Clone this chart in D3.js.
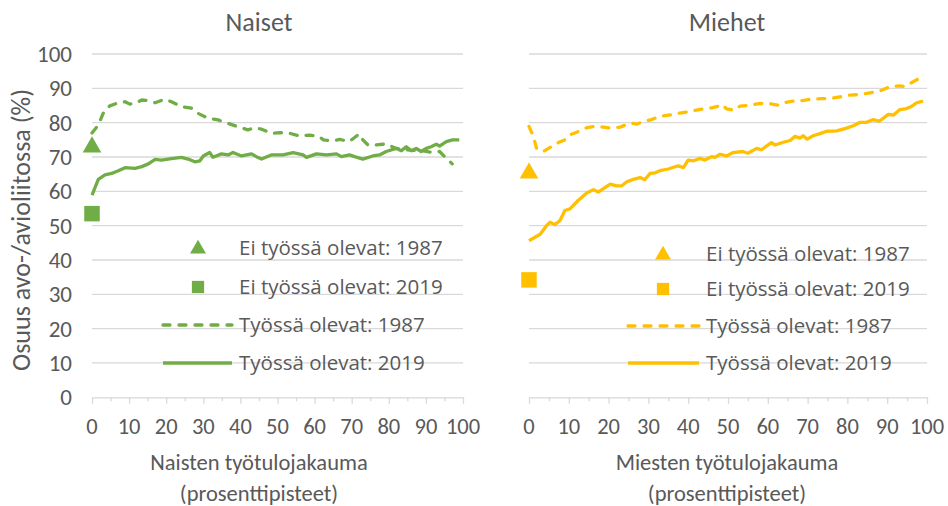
<!DOCTYPE html>
<html><head><meta charset="utf-8">
<script src="https://cdn.jsdelivr.net/npm/d3@7"></script>
<style>
body{margin:0;background:#fff}
text{fill:#595959}
.cal{font-family:"Carlito","Liberation Sans Narrow","Liberation Sans",sans-serif}
.leg{font-family:"Open Sans","Noto Sans",sans-serif}
</style></head><body>
<svg id="c" width="948" height="506"></svg>
<script>
const xTicks = [0,10,20,30,40,50,60,70,80,90,100];
const yTicks = [0,10,20,30,40,50,60,70,80,90,100];
const panelTitles = ["Naiset","Miehet"];
const axisTitles = [["Naisten työtulojakauma","(prosenttipisteet)"],["Miesten työtulojakauma","(prosenttipisteet)"]];
const yTitle = "Osuus avo-/avioliitossa (%)";
const legendLabels = ["Ei työssä olevat: 1987","Ei työssä olevat: 2019","Työssä olevat: 1987","Työssä olevat: 2019"];
const colors = ["#70AD47","#FFC000"];

// Ei työssä olevat (x = 0): [1987, 2019]
const womenIdle = [73.2, 53.5];
const menIdle = [65.6, 34.2];

const women1987 = [[0,77],[1.7,79.3],[3,82.7],[4.8,84.9],[6.6,85.6],[8.9,86.1],[10.2,85.4],[12,85.8],[13.4,86.6],[15.2,86.4],[17,85.8],[19.6,86.8],[21.4,86.1],[24.1,84.7],[26.8,84.2],[28.6,82.7],[31.3,81.3],[34,80.8],[35.8,80.1],[39.4,78.8],[42,77.9],[43.9,78.5],[45.7,78.1],[48.3,76.9],[50.6,77.1],[53.3,76.9],[56,76.1],[58.7,76.4],[61.4,75.9],[62.3,75],[65,74.7],[66.8,75.1],[69.4,74.5],[72,76.7],[73,75],[74.4,73.5],[76.6,73.5],[79.3,73.8],[82,72.5],[85.6,72],[89.2,71.8],[91.9,71.3],[93.7,71.6],[95.5,69.6],[97.1,68]];
const women2019 = [[0,58.9],[1.7,63.5],[3.5,64.8],[5.3,65.2],[7.1,66],[8.9,66.9],[11.6,66.7],[13.4,67.2],[15.2,68],[17,69.3],[18.7,69.1],[21.4,69.5],[24.1,69.9],[25.9,69.4],[27.7,68.6],[29.1,68.9],[30,70.3],[31.7,71.3],[32.6,69.9],[34.9,70.9],[36.7,70.6],[38,71.3],[40.3,70.3],[43,70.9],[44.3,70.1],[45.7,69.4],[48.3,70.6],[51.5,70.6],[54.2,71.3],[56.9,70.6],[57.8,69.9],[60.5,70.9],[63.2,70.6],[65.9,70.9],[67.2,70.1],[69.4,70.6],[70.8,70.1],[73,69.4],[75.7,70.3],[77.5,70.6],[79.3,71.6],[82,72.5],[83.4,71.8],[84.7,73],[86.1,71.8],[87.4,72.5],[88.7,71.6],[90.1,72.5],[91.4,73],[92.8,73.7],[93.7,73.2],[95.5,74.5],[97.2,75],[99,75]];
const men1987 = [[0,78.9],[1.1,76],[1.9,72.5],[3.6,71.6],[5.3,72.8],[7.4,74.2],[9,75],[10.3,76.5],[12,77.2],[14.1,78.4],[16.2,78.9],[18.7,78.7],[20.8,78.4],[22.9,78.7],[25.4,79.9],[27.1,79.6],[29.1,80.4],[30.8,80.9],[32.9,81.9],[34.6,82.1],[36.3,82.4],[37.9,82.8],[39.6,83.1],[41.3,83.5],[43.8,84],[45.9,84.3],[47.6,84.8],[48.4,85.3],[49.7,84],[51.7,83.6],[53,84.8],[55.5,85.1],[58,85.6],[60.6,85.5],[62.6,85.1],[63.9,85.8],[66.4,86.3],[68.1,86.3],[70.6,86.8],[73.1,87],[75.6,87],[78.1,87.5],[80.6,88],[83.2,88.2],[85.7,88.7],[88.2,89.2],[90.7,90.5],[93.2,90.7],[94.5,90.5],[96.2,91.7],[98.1,92.9]];
const men2019 = [[0,45.6],[2.8,47.5],[4.4,50],[5.3,51],[6.5,50.3],[7.8,51.5],[9,54.4],[10.3,54.9],[12.4,57.4],[14.5,59.5],[16.2,60.5],[17.4,59.8],[18.7,60.8],[20.4,62.1],[22,61.6],[23.3,61.6],[24.5,62.7],[26.2,63.5],[27.9,64],[29.1,63.4],[30.4,65.2],[31.7,65.4],[32.9,66],[35,66.5],[36.3,67],[37.5,67.4],[38.8,66.9],[40,69.1],[41.3,68.9],[43,69.6],[44.2,69.1],[45.9,70.1],[46.7,69.9],[48,70.8],[49.6,70.3],[51.3,71.3],[53.7,71.6],[55,71.1],[57.2,72.5],[58.4,72.1],[60.9,74.2],[61.8,73.5],[63.9,74.3],[65.6,74.8],[66.8,76],[68.1,75.5],[68.9,76.2],[69.9,75.2],[71.4,76.2],[73.1,76.8],[74.8,77.5],[77.3,77.6],[79.8,78.4],[81.5,79.1],[83.2,80.1],[84.8,80.1],[86.5,80.9],[88,80.4],[90.3,82.4],[91.6,82.2],[93.2,83.8],[94.9,84.1],[96.2,84.8],[97.4,85.8],[99,86.3]];

const svg = d3.select("#c");
const y = d3.scaleLinear().domain([0,100]).range([397.3,54]);

const panels = [
  {x0:92, x1:463, idle:womenIdle, l1987:women1987, l2019:women2019, color:colors[0], legX:163, legTx:239, legY:[248,287,325,363], cx:259},
  {x0:529, x1:927, idle:menIdle, l1987:men1987, l2019:men2019, color:colors[1], legX:628, legTx:706, legY:[254,289,326,363], cx:727}
];

// y axis labels (left panel only)
svg.append("g").selectAll("text").data(yTicks).join("text")
  .attr("class","cal").attr("x",72).attr("y",d=>y(d)).attr("dy","0.35em")
  .attr("text-anchor","end").attr("font-size",23).text(d=>d);
svg.append("text").attr("class","cal").attr("transform","translate(21,230) rotate(-90)")
  .attr("text-anchor","middle").attr("dy","0.35em").attr("font-size",26).text(yTitle);

const tri = d3.symbol().type(d3.symbolTriangle).size(150);
const sq = d3.symbol().type(d3.symbolSquare).size(240);

panels.forEach((p,i)=>{
  const x = d3.scaleLinear().domain([0,100]).range([p.x0,p.x1]);
  const g = svg.append("g");
  // gridlines
  g.selectAll("line.grid").data(yTicks.filter(d=>d>0)).join("line")
    .attr("x1",p.x0).attr("x2",p.x1).attr("y1",d=>y(d)).attr("y2",d=>y(d))
    .attr("stroke","#D9D9D9").attr("stroke-width",1.3);
  // x axis
  const ax = d3.axisBottom(x).tickValues(d3.range(0,101,5)).tickSize(0).tickFormat("");
  const axg = g.append("g").attr("transform",`translate(0,${y(0)})`).call(ax);
  axg.select(".domain").attr("stroke","#D9D9D9").attr("stroke-width",1.3);
  axg.selectAll(".tick line").attr("stroke","#D9D9D9").attr("stroke-width",1.3)
    .attr("y2",d=>d%10===0?6.5:4);
  g.selectAll("text.xt").data(xTicks).join("text").attr("class","cal")
    .attr("x",d=>x(d)).attr("y",426).attr("dy","0.35em").attr("text-anchor","middle")
    .attr("font-size",22.5).text(d=>d);
  // titles
  g.append("text").attr("class","cal").attr("x",p.cx).attr("y",22).attr("dy","0.35em")
    .attr("text-anchor","middle").attr("font-size",26).text(panelTitles[i]);
  axisTitles[i].forEach((t,k)=>g.append("text").attr("class","cal").attr("x",p.cx).attr("y",462+k*31)
    .attr("dy","0.35em").attr("text-anchor","middle").attr("font-size",22.5).text(t));
  // lines
  const line = d3.line().x(d=>x(d[0])).y(d=>y(d[1]));
  g.append("path").datum(p.l1987).attr("d",line).attr("fill","none").attr("stroke",p.color)
    .attr("stroke-width",3.3).attr("stroke-dasharray","7,9").attr("stroke-linecap","round").attr("stroke-linejoin","round");
  g.append("path").datum(p.l2019).attr("d",line).attr("fill","none").attr("stroke",p.color)
    .attr("stroke-width",3.3).attr("stroke-linejoin","round");
  // idle markers
  g.append("path").attr("d",tri).attr("transform",`translate(${x(0)},${y(p.idle[0])+1})`).attr("fill",p.color);
  g.append("path").attr("d",sq).attr("transform",`translate(${x(0)},${y(p.idle[1])})`).attr("fill",p.color);
  // legend
  g.append("path").attr("d",d3.symbol().type(d3.symbolTriangle).size(110)).attr("transform",`translate(${p.legX+35},${p.legY[0]+1})`).attr("fill",p.color);
  g.append("path").attr("d",d3.symbol().type(d3.symbolSquare).size(150)).attr("transform",`translate(${p.legX+35},${p.legY[1]})`).attr("fill",p.color);
  g.append("line").attr("x1",p.legX).attr("x2",p.legTx-7).attr("y1",p.legY[2]).attr("y2",p.legY[2])
    .attr("stroke",p.color).attr("stroke-width",3.3).attr("stroke-dasharray","7,9").attr("stroke-linecap","round");
  g.append("line").attr("x1",p.legX).attr("x2",p.legTx-7).attr("y1",p.legY[3]).attr("y2",p.legY[3])
    .attr("stroke",p.color).attr("stroke-width",3.3);
  g.selectAll("text.lg").data(legendLabels).join("text").attr("class","leg")
    .attr("x",p.legTx).attr("y",(d,k)=>p.legY[k]).attr("dy","0.35em")
    .attr("font-size",20.5).text(d=>d);
});
</script></body></html>
